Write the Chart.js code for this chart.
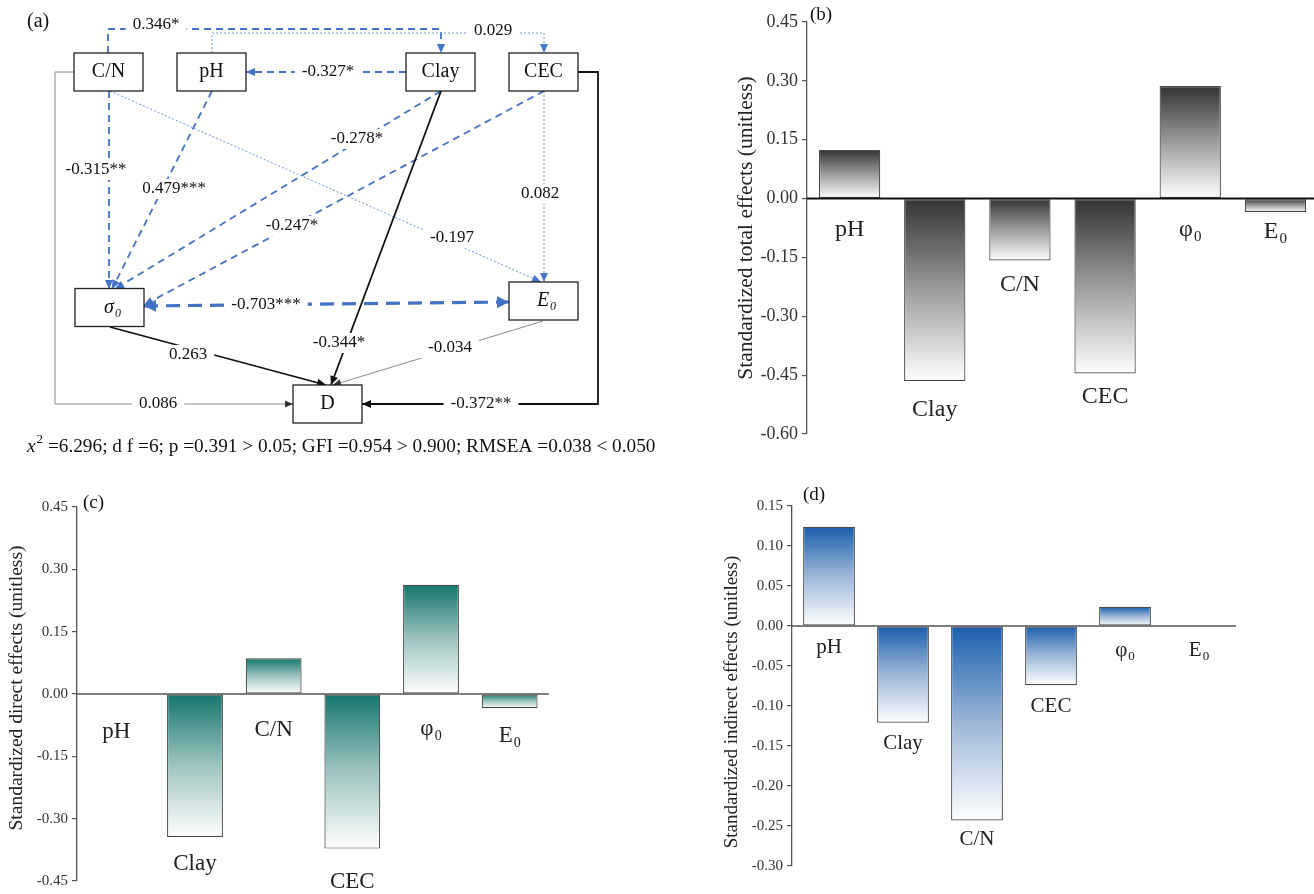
<!DOCTYPE html>
<html>
<head>
<meta charset="utf-8">
<script src="https://cdn.jsdelivr.net/npm/chart.js@4.4.1/dist/chart.umd.min.js"></script>
<style>
  html, body { margin:0; padding:0; background:#fff; width:1314px; height:894px; overflow:hidden; }
  canvas { position:absolute; }
</style>
</head>
<body>
<canvas id="pa" width="660" height="470" style="left:0px;top:0px;width:660px;height:470px"></canvas>
<canvas id="pb" width="630" height="450" style="left:690px;top:0px;width:630px;height:450px"></canvas>
<canvas id="pc" width="560" height="414" style="left:0px;top:480px;width:560px;height:414px"></canvas>
<canvas id="pd" width="624" height="424" style="left:690px;top:470px;width:624px;height:424px"></canvas>
<script>
// ---------------- DATA ----------------
const categories = ['pH', 'Clay', 'C/N', 'CEC', 'φ_0', 'E_0'];
const totalEffects    = [0.124, -0.465, -0.158, -0.446, 0.287, -0.034];
const directEffects   = [0, -0.344, 0.086, -0.372, 0.263, -0.034];
const indirectEffects = [0.124, -0.121, -0.243, -0.074, 0.024, 0];

const totalTicks    = [-0.60, -0.45, -0.30, -0.15, 0.00, 0.15, 0.30, 0.45];
const directTicks   = [-0.45, -0.30, -0.15, 0.00, 0.15, 0.30, 0.45];
const indirectTicks = [-0.30, -0.25, -0.20, -0.15, -0.10, -0.05, 0.00, 0.05, 0.10, 0.15];

const pathNodes = ['C/N', 'pH', 'Clay', 'CEC', 'σ_0', 'E_0', 'D'];
const pathFrom  = ['C/N', 'pH', 'Clay', 'C/N', 'pH', 'Clay', 'CEC', 'C/N', 'CEC', 'σ_0', 'Clay', 'σ_0', 'E_0', 'C/N', 'CEC'];
const pathTo    = ['Clay', 'CEC', 'pH', 'σ_0', 'σ_0', 'σ_0', 'σ_0', 'E_0', 'E_0', 'E_0', 'D', 'D', 'D', 'D', 'D'];
const pathCoef  = [0.346, 0.029, -0.327, -0.315, 0.479, -0.278, -0.247, -0.197, 0.082, -0.703, -0.344, 0.263, -0.034, 0.086, -0.372];
const pathSig   = ['*', '', '*', '**', '***', '*', '*', '', '', '***', '*', '', '', '', '**'];

const fitStats = ' =6.296; d f =6; p =0.391 > 0.05; GFI =0.954 > 0.900; RMSEA =0.038 < 0.050';

// ---------------- LAYOUT / STYLE ----------------
const SERIF = "'Liberation Serif','Times New Roman',serif";

const diagramLayout = {
  boxW: 69, boxH: 38,
  nodePos: { 'C/N':[108.5,72], 'pH':[211.5,72], 'Clay':[440.5,72], 'CEC':[543.5,72],
             'σ_0':[109.5,307.5], 'E_0':[543.5,301], 'D':[327.5,404] },
  routes: [
    [[108,53],[108,29],[441,29],[441,53]],
    [[212,53],[212,33],[544,33],[544,53]],
    [[406,72],[246,72]],
    [[109,91],[109,289]],
    [[212,91],[112,289]],
    [[441,91],[115,289]],
    [[544,91],[144,305]],
    [[110,91],[541,282]],
    [[544,91],[544,282]],
    [[144,306],[509,302]],
    [[441,91],[331,385]],
    [[110,327],[326,385]],
    [[543,321],[333,385]],
    [[74,72],[55,72],[55,404],[293,404]],
    [[578,72],[598,72],[598,404],[362,404]]
  ],
  labelPos: [[156,25],[493,31],[328,72],[96,170],[174,189],[357,139],[292,226],[452,238],
             [540,194],[266,305],[339,343],[188,355],[450,348],[158,404],[481,404]],
  styles: ['dash','dot','dash','dash','dash','dash','dash','dot','dot','bold','solid','solid','thin','thin','solid'],
  doubleHead: [9]
};
const lineStyles = {
  dash:  { color:'#4472C4', width:1.8, dash:[7,5],  head:'#4472C4', hl:9,  hw:4 },
  bold:  { color:'#4472C4', width:3.2, dash:[14,8], head:'#4472C4', hl:12, hw:6 },
  dot:   { color:'#6b93d6', width:1.0, dash:[2,2],  head:'#4a78c8', hl:9,  hw:4 },
  solid: { color:'#111111', width:1.8, dash:[],     head:'#111111', hl:9,  hw:4 },
  thin:  { color:'#8a8a8a', width:1.0, dash:[],     head:'#333333', hl:8,  hw:3.5 }
};

function drawRich(ctx, text, x, y, size, italic, align) {
  const parts = text.split('_');
  const base = parts[0], sub = parts[1];
  const bf = (italic ? 'italic ' : '') + size + 'px ' + SERIF;
  const sf = (italic ? 'italic ' : '') + Math.round(size * 0.62) + 'px ' + SERIF;
  ctx.font = bf; const wb = ctx.measureText(base).width;
  let ws = 0;
  if (sub) { ctx.font = sf; ws = ctx.measureText(sub).width + 1; }
  const total = wb + ws;
  let sx = x - total / 2;
  if (align === 'left') sx = x;
  if (align === 'right') sx = x - total;
  ctx.textAlign = 'left'; ctx.textBaseline = 'middle';
  ctx.font = bf; ctx.fillText(base, sx, y);
  if (sub) { ctx.font = sf; ctx.fillText(sub, sx + wb + 1, y + size * 0.3); }
}

function arrowHead(ctx, from, to, len, hw) {
  const a = Math.atan2(to[1] - from[1], to[0] - from[0]);
  const c = Math.cos(a), s = Math.sin(a);
  ctx.beginPath();
  ctx.moveTo(to[0], to[1]);
  ctx.lineTo(to[0] - len * c + hw * s, to[1] - len * s - hw * c);
  ctx.lineTo(to[0] - len * c - hw * s, to[1] - len * s + hw * c);
  ctx.closePath();
  ctx.fill();
}

// ---------------- PANEL (a) ----------------
const pathPlugin = {
  id: 'pathDiagram',
  afterDatasetsDraw(chart) {
    const ctx = chart.ctx, sx = chart.scales.x, sy = chart.scales.y;
    const P = p => [sx.getPixelForValue(p[0]), sy.getPixelForValue(p[1])];
    const L = diagramLayout;
    ctx.save();
    pathCoef.forEach((c, i) => {
      const st = lineStyles[L.styles[i]];
      const pts = L.routes[i].map(P);
      ctx.strokeStyle = st.color; ctx.lineWidth = st.width; ctx.setLineDash(st.dash);
      ctx.beginPath();
      ctx.moveTo(pts[0][0], pts[0][1]);
      for (let k = 1; k < pts.length; k++) ctx.lineTo(pts[k][0], pts[k][1]);
      ctx.stroke();
      ctx.setLineDash([]);
      ctx.fillStyle = st.head;
      const n = pts.length;
      arrowHead(ctx, pts[n - 2], pts[n - 1], st.hl, st.hw);
      if (L.doubleHead.includes(i)) arrowHead(ctx, pts[1], pts[0], st.hl, st.hw);
    });
    ctx.font = '17px ' + SERIF;
    ctx.textAlign = 'center'; ctx.textBaseline = 'middle';
    pathCoef.forEach((c, i) => {
      const txt = (c < 0 ? '-' : '') + Math.abs(c).toFixed(3) + pathSig[i];
      const [x, y] = P(L.labelPos[i]);
      const w = ctx.measureText(txt).width;
      ctx.fillStyle = '#fff';
      ctx.fillRect(x - w / 2 - 7, y - 10, w + 14, 20);
      ctx.fillStyle = '#111';
      ctx.fillText(txt, x, y);
    });
    pathNodes.forEach(name => {
      const [cx, cy] = P(L.nodePos[name]);
      const w = L.boxW, h = L.boxH;
      ctx.fillStyle = '#fff';
      ctx.fillRect(cx - w / 2, cy - h / 2, w, h);
      ctx.strokeStyle = '#222'; ctx.lineWidth = 1.3;
      ctx.strokeRect(cx - w / 2, cy - h / 2, w, h);
      ctx.fillStyle = '#111';
      const italic = name.indexOf('_') >= 0;
      drawRich(ctx, name, cx + (italic ? 3 : 0), cy, 20, italic, 'center');
    });
    ctx.fillStyle = '#111';
    ctx.font = '20px ' + SERIF; ctx.textAlign = 'left'; ctx.textBaseline = 'middle';
    ctx.fillText('(a)', 27, 22);
    const fy = 447;
    ctx.font = 'italic 19.3px ' + SERIF;
    ctx.fillText('x', 27, fy);
    let xx = 27 + ctx.measureText('x').width + 1;
    ctx.font = '13px ' + SERIF;
    ctx.fillText('2', xx, fy - 7);
    xx += ctx.measureText('2').width;
    ctx.font = '19.3px ' + SERIF;
    ctx.fillText(fitStats, xx, fy);
    ctx.restore();
  }
};

new Chart(document.getElementById('pa'), {
  type: 'scatter',
  data: { datasets: [{ data: pathNodes.map(n => ({ x: diagramLayout.nodePos[n][0], y: diagramLayout.nodePos[n][1] })), pointRadius: 0 }] },
  options: {
    responsive: false, animation: false, devicePixelRatio: 1,
    layout: { padding: 0 },
    plugins: { legend: { display: false }, tooltip: { enabled: false } },
    scales: {
      x: { type: 'linear', min: 0, max: 660, display: false },
      y: { type: 'linear', min: 0, max: 470, reverse: true, display: false }
    }
  },
  plugins: [pathPlugin]
});

// ---------------- BAR PANELS ----------------
const barPanels = [
  { id:'pb', values: totalEffects, ticks: totalTicks, title:'Standardized total effects (unitless)', tag:'(b)',
    colors:['#333333','#9c9c9c','#ffffff'], pad:{left:0,right:2,top:22,bottom:16}, axisW:117,
    titleSize:21.5, titlePos:[56,228],
    labelSize:24, labelOff:[31,29,24,23,31,20], barPct:0.72, tagPos:[120,15], zeroColor:'#111', zeroW:2, tickSize:18 },
  { id:'pc', values: directEffects, ticks: directTicks, title:'Standardized direct effects (unitless)', tag:'(c)',
    colors:['#14766d','#9ec4c0','#ffffff'], pad:{left:0,right:11,top:27,bottom:9}, axisW:77,
    titleSize:19.5, titlePos:[17,208],
    labelSize:23, labelOff:[38,27,36,33,35,28], barPct:0.71, tagPos:[83,23], zeroColor:'#555', zeroW:1.3, tickSize:15 },
  { id:'pd', values: indirectEffects, ticks: indirectTicks, title:'Standardized indirect effects (unitless)', tag:'(d)',
    colors:['#1a5fae','#9cb7d8','#ffffff'], pad:{left:0,right:78,top:36,bottom:28}, axisW:102,
    titleSize:19, titlePos:[42,232],
    labelSize:21, labelOff:[21,21,19,21,24,24], barPct:0.70, tagPos:[113,25], zeroColor:'#555', zeroW:1.3, tickSize:15 }
];

barPanels.forEach(p => {
  const decor = {
    id: 'barDecor',
    afterDatasetsDraw(chart) {
      const ctx = chart.ctx, xs = chart.scales.x, ys = chart.scales.y, ca = chart.chartArea;
      const y0 = ys.getPixelForValue(0);
      ctx.save();
      ctx.strokeStyle = p.zeroColor; ctx.lineWidth = p.zeroW;
      ctx.beginPath(); ctx.moveTo(ca.left, y0); ctx.lineTo(ca.right, y0); ctx.stroke();
      ctx.fillStyle = '#222';
      categories.forEach((lab, i) => {
        const v = p.values[i];
        const yEnd = Math.max(ys.getPixelForValue(v), y0);
        drawRich(ctx, lab, xs.getPixelForValue(i), yEnd + p.labelOff[i], p.labelSize, false, 'center');
      });
      ctx.fillStyle = '#111';
      ctx.font = '19px ' + SERIF; ctx.textAlign = 'left'; ctx.textBaseline = 'middle';
      ctx.fillText(p.tag, p.tagPos[0], p.tagPos[1]);
      // rotated y-axis title
      ctx.translate(p.titlePos[0], p.titlePos[1]);
      ctx.rotate(-Math.PI / 2);
      ctx.fillStyle = '#222';
      ctx.font = p.titleSize + 'px ' + SERIF; ctx.textAlign = 'center'; ctx.textBaseline = 'middle';
      ctx.fillText(p.title, 0, 0);
      ctx.restore();
    }
  };
  new Chart(document.getElementById(p.id), {
    type: 'bar',
    data: {
      labels: categories,
      datasets: [{
        data: p.values,
        backgroundColor: (c) => {
          if (c.type !== 'data') return p.colors[0];
          const chart = c.chart, ys = chart.scales.y;
          if (!ys || !chart.chartArea) return p.colors[0];
          const a = ys.getPixelForValue(c.raw), b = ys.getPixelForValue(0);
          const top = Math.min(a, b), bot = Math.max(a, b);
          if (bot - top < 1) return p.colors[0];
          const g = chart.ctx.createLinearGradient(0, top, 0, bot);
          g.addColorStop(0, p.colors[0]);
          g.addColorStop(0.5, p.colors[1]);
          g.addColorStop(1, p.colors[2]);
          return g;
        },
        borderColor: '#4a4a4a',
        borderWidth: (c) => (c.raw === 0 ? 0 : 1.2),
        borderSkipped: false,
        barPercentage: p.barPct,
        categoryPercentage: 1
      }]
    },
    options: {
      responsive: false, animation: false, devicePixelRatio: 1,
      layout: { padding: p.pad },
      plugins: { legend: { display: false }, tooltip: { enabled: false } },
      scales: {
        x: { type: 'category', display: false, offset: true },
        y: {
          type: 'linear',
          min: p.ticks[0], max: p.ticks[p.ticks.length - 1],
          afterBuildTicks: (s) => { s.ticks = p.ticks.map(v => ({ value: v })); },
          afterFit: (s) => { s.width = p.axisW; },
          ticks: { callback: (v) => Number(v).toFixed(2), font: { family: SERIF, size: p.tickSize }, color: '#333', padding: 4, autoSkip: false },
          grid: { display: true, drawOnChartArea: false, drawTicks: true, tickLength: 5, color: '#555', lineWidth: 1.2 },
          border: { display: true, color: '#555', width: 1.3 },
          title: { display: false }
        }
      }
    },
    plugins: [decor]
  });
});
</script>
</body>
</html>
